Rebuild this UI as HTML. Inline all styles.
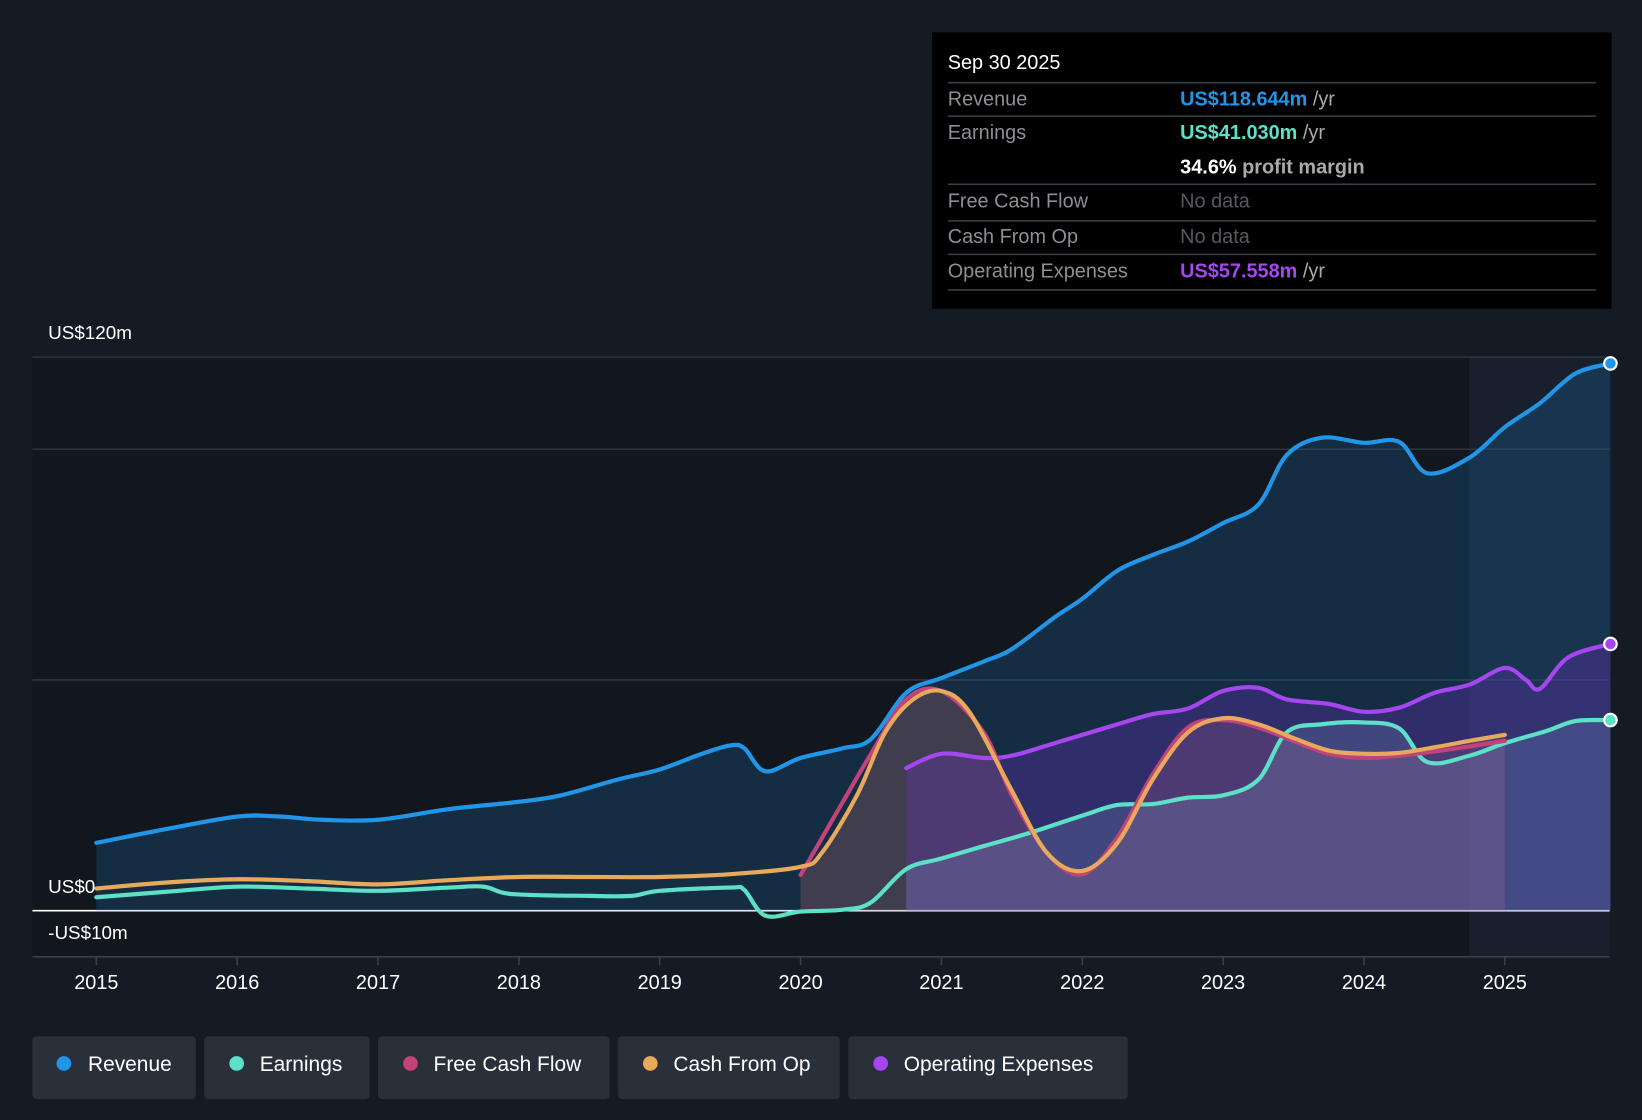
<!DOCTYPE html>
<html><head><meta charset="utf-8"><style>
html,body{margin:0;padding:0;background:#151b24;}
svg{display:block;font-family:"Liberation Sans",sans-serif;}
</style></head><body>
<svg id="chart" width="1642" height="1120" viewBox="0 0 1568 1070" preserveAspectRatio="none" xmlns="http://www.w3.org/2000/svg">
<rect x="0" y="0" width="1568" height="1070" fill="#151b24"/>
<rect x="31" y="341" width="1506" height="573" fill="#12171e"/>
<rect x="1403" y="341" width="134" height="573" fill="#1b2a3a" opacity="0.5"/>
<g id="grid"></g>
<g id="areas"></g>
<g id="lines"></g>
<g id="xaxis"></g>
<text x="46" y="324" fill="#fff" font-size="18">US$120m</text>
<text x="46" y="853" fill="#fff" font-size="18">US$0</text>
<text x="46" y="897" fill="#fff" font-size="18">-US$10m</text>

<g>
<rect x="890" y="31" width="649" height="264" fill="#000"/>
<text x="905" y="66" fill="#fff" font-size="19">Sep 30 2025</text>
<g stroke="#3a3f47" stroke-width="1.5">
<line x1="905" y1="79" x2="1524" y2="79"/><line x1="905" y1="111" x2="1524" y2="111"/>
<line x1="905" y1="176" x2="1524" y2="176"/><line x1="905" y1="211" x2="1524" y2="211"/>
<line x1="905" y1="243" x2="1524" y2="243"/><line x1="905" y1="277" x2="1524" y2="277"/>
</g>
<g font-size="19" fill="#8a8f96">
<text x="905" y="101">Revenue</text><text x="905" y="133">Earnings</text>
<text x="905" y="198">Free Cash Flow</text><text x="905" y="232">Cash From Op</text>
<text x="905" y="265">Operating Expenses</text>
</g>
<text x="1127" y="101" font-size="19" font-weight="bold" fill="#2196e8">US$118.644m <tspan fill="#aaa" font-weight="normal">/yr</tspan></text>
<text x="1127" y="133" font-size="19" font-weight="bold" fill="#5de0c8">US$41.030m <tspan fill="#aaa" font-weight="normal">/yr</tspan></text>
<text x="1127" y="166" font-size="19" font-weight="bold" fill="#fff">34.6% <tspan fill="#aaa">profit margin</tspan></text>
<text x="1127" y="198" font-size="19" fill="#555a61">No data</text>
<text x="1127" y="232" font-size="19" fill="#555a61">No data</text>
<text x="1127" y="265" font-size="19" font-weight="bold" fill="#a546f0">US$57.558m <tspan fill="#aaa" font-weight="normal">/yr</tspan></text>
</g>

<g font-size="20" fill="#fff">
<g><rect x="31" y="990" width="156" height="60" rx="4" fill="#2a303a"/><circle cx="61" cy="1016" r="7" fill="#2196e8"/><text x="84" y="1023">Revenue</text></g>
<g><rect x="195" y="990" width="158" height="60" rx="4" fill="#2a303a"/><circle cx="226" cy="1016" r="7" fill="#5de0c8"/><text x="248" y="1023">Earnings</text></g>
<g><rect x="361" y="990" width="221" height="60" rx="4" fill="#2a303a"/><circle cx="392" cy="1016" r="7" fill="#c2437a"/><text x="414" y="1023">Free Cash Flow</text></g>
<g><rect x="590" y="990" width="212" height="60" rx="4" fill="#2a303a"/><circle cx="621" cy="1016" r="7" fill="#e8a95c"/><text x="643" y="1023">Cash From Op</text></g>
<g><rect x="810" y="990" width="267" height="60" rx="4" fill="#2a303a"/><circle cx="841" cy="1016" r="7" fill="#a546f0"/><text x="863" y="1023">Operating Expenses</text></g>
</g>
</svg>
<script>
const revT=[2015,2015.5,2016,2016.3,2016.6,2017,2017.5,2018,2018.3,2018.7,2019,2019.3,2019.5,2019.6,2019.75,2020,2020.3,2020.5,2020.75,2021,2021.3,2021.5,2021.8,2022,2022.25,2022.5,2022.75,2023,2023.25,2023.45,2023.7,2024,2024.25,2024.45,2024.75,2025,2025.25,2025.5,2025.75];
const revV=[14.7,17.7,20.4,20.4,19.7,19.7,22,23.6,25,28.4,30.6,34,35.8,35.2,30.2,33.1,35.2,37.2,47.2,50.4,54,56.7,63.5,67.6,73.7,77.1,80,84,88,98.7,102.5,101.4,101.6,94.8,98.2,104.8,110,116.4,118.6];
const earnT=[2015,2015.5,2016,2016.5,2017,2017.5,2017.75,2017.95,2018.5,2018.8,2019,2019.5,2019.6,2019.75,2020,2020.3,2020.5,2020.75,2021,2021.3,2021.6,2022,2022.25,2022.5,2022.75,2023,2023.25,2023.45,2023.7,2024,2024.25,2024.45,2024.75,2025,2025.3,2025.5,2025.75];
const earnV=[2.9,4.1,5.2,4.8,4.3,5,5.2,3.6,3.2,3.2,4.3,5,4.5,-1.1,-0.2,0.2,1.8,9,11.3,14,16.6,20.6,22.9,23.1,24.5,25,28.4,38.6,40.4,40.8,39.5,32.2,33.6,36.3,39,41.1,41.3];
const fcfT=[2020,2020.5,2020.75,2021,2021.3,2021.5,2021.75,2022,2022.25,2022.5,2022.75,2023,2023.25,2023.5,2023.75,2024,2024.25,2024.5,2024.75,2025];
const fcfV=[7.7,34,45.8,47.6,38.6,25,12.5,7.9,15.9,29.5,39.7,41.3,39.7,36.8,34,33.1,33.6,34.5,35.6,36.8];
const cfoT=[2015,2015.5,2016,2016.5,2017,2017.5,2018,2018.5,2019,2019.5,2020,2020.15,2020.4,2020.6,2020.8,2021,2021.2,2021.5,2021.75,2022,2022.25,2022.5,2022.75,2023,2023.25,2023.5,2023.75,2024,2024.25,2024.5,2024.75,2025];
const cfoV=[4.8,6.1,6.8,6.4,5.7,6.6,7.3,7.3,7.3,7.9,9.5,12.5,25,38.6,45.8,47.6,43,26,12.5,8.6,14.7,28.4,38.6,41.7,40.4,37.4,34.7,34,34.2,35.4,36.8,38.1];
const opxT=[2020.75,2021,2021.3,2021.5,2021.75,2022,2022.25,2022.5,2022.75,2023,2023.25,2023.45,2023.75,2024,2024.25,2024.5,2024.75,2025,2025.15,2025.25,2025.45,2025.75];
const opxV=[30.9,34,33.1,33.6,35.8,38.1,40.4,42.6,43.8,47.6,48.3,45.8,44.8,43.1,44,47.2,49,52.6,50,48.1,54.9,57.8];
const yearTicks=[2015,2016,2017,2018,2019,2020,2021,2022,2023,2024,2025];
const gridVals=[120,100,50];

const xs=t=>92+(t-2015)*134.5;
const ys=v=>870-v*4.408;
const NS='http://www.w3.org/2000/svg';
function mk(tag,attrs,parent){const e=document.createElementNS(NS,tag);for(const k in attrs)e.setAttribute(k,attrs[k]);parent.appendChild(e);return e;}
function smooth(T,V){const p=T.map((t,i)=>[xs(t),ys(V[i])]);let d='M'+p[0][0]+','+p[0][1];
for(let i=0;i<p.length-1;i++){const p0=p[i-1]||p[i],p1=p[i],p2=p[i+1],p3=p[i+2]||p2;
const c1=[p1[0]+(p2[0]-p0[0])/6,p1[1]+(p2[1]-p0[1])/6],c2=[p2[0]-(p3[0]-p1[0])/6,p2[1]-(p3[1]-p1[1])/6];
d+=` C${c1[0]},${c1[1]} ${c2[0]},${c2[1]} ${p2[0]},${p2[1]}`;}return d;}
function area(T,V){return smooth(T,V)+` L${xs(T[T.length-1])},${ys(0)} L${xs(T[0])},${ys(0)} Z`;}

const grid=document.getElementById('grid');
gridVals.forEach(v=>{const l=mk('line',{x1:31,x2:1537,y1:ys(v),y2:ys(v),stroke:'#2e3540','stroke-width':1.5},grid);

});
const zl=mk('line',{x1:31,x2:1537,y1:ys(0),y2:ys(0),stroke:'#fff','stroke-width':1.5},grid);


const bl=mk('line',{x1:31,x2:1537,y1:ys(-10),y2:ys(-10),stroke:'#3a414c','stroke-width':1.5},grid);



const ar=document.getElementById('areas');
const series=[
 ['revenue',revT,revV,'#2196e8','rgba(33,110,180,0.25)'],
 ['cash-from-op',cfoT.slice(10),cfoV.slice(10),null,'rgba(190,110,110,0.25)'],
 ['opex',opxT,opxV,null,'rgba(120,50,210,0.28)'],
 ['earnings',earnT.slice(17),earnV.slice(17),null,'rgba(130,160,200,0.22)']];
series.forEach(s=>{const a=mk('path',{d:area(s[1],s[2]),fill:s[4]},ar);

});

const ln=document.getElementById('lines');
const lines=[['earnings',earnT,earnV,'#5de0c8'],['revenue',revT,revV,'#2196e8'],['opex',opxT,opxV,'#a546f0'],['free-cash-flow',fcfT,fcfV,'#c2437a'],['cash-from-op',cfoT,cfoV,'#e8a95c']];
lines.forEach(s=>{const p=mk('path',{d:smooth(s[1],s[2]),fill:'none',stroke:s[3],'stroke-width':4,'stroke-linecap':'round'},ln);

});
[['revenue',revT,revV,'#2196e8'],['opex',opxT,opxV,'#a546f0'],['earnings',earnT,earnV,'#5de0c8']].forEach(s=>{
const n=s[1].length-1;const c=mk('circle',{cx:xs(s[1][n]),cy:ys(s[2][n]),r:6,fill:s[3],stroke:'#fff','stroke-width':2},ln);

});

const xa=document.getElementById('xaxis');
yearTicks.forEach(y=>{const t=mk('line',{x1:xs(y),x2:xs(y),y1:914,y2:922,stroke:'#3a414c','stroke-width':1.5},xa);


const tx=mk('text',{x:xs(y),y:945,fill:'#fff','font-size':19,'text-anchor':'middle'},xa);tx.textContent=y;

});
</script>
</body></html>
